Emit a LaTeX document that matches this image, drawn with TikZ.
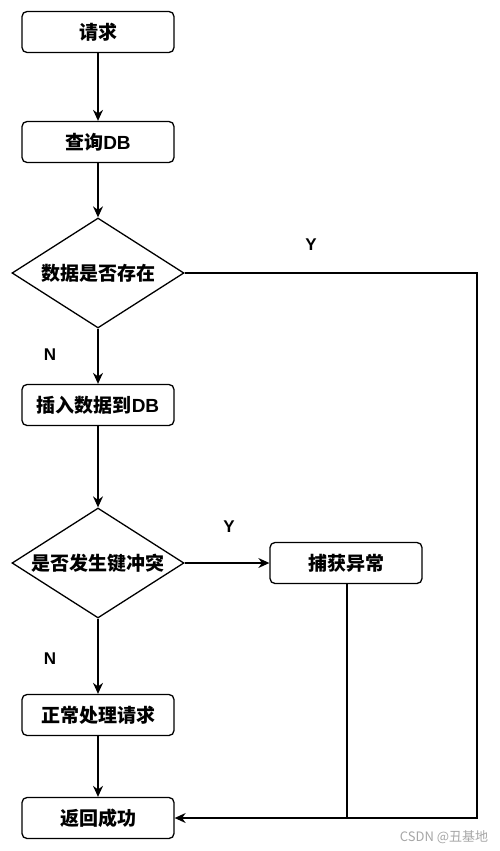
\documentclass[tikz,border=0pt]{standalone}
\usepackage{fontspec}
\setmainfont{Noto Sans CJK SC}
\newfontfamily\latinfont{Liberation Sans}
\usetikzlibrary{shapes.geometric,arrows.meta}
\begin{document}
\begin{tikzpicture}[x=1pt,y=-1pt,
  box/.style={draw,line width=1.3pt,rounded corners=5pt,minimum width=152pt,minimum height=41pt,inner sep=0pt,font=\bfseries\fontsize{19}{21}\selectfont},
  dia/.style={draw,line width=1.3pt,diamond,aspect=1.57,minimum width=172pt,minimum height=110pt,inner sep=0pt,font=\bfseries\fontsize{19}{21}\selectfont},
  lab/.style={font=\latinfont\bfseries\fontsize{17}{19}\selectfont},
  conn/.style={line width=1.3pt,-{Stealth[length=11pt,width=10pt]}},
  plain/.style={line width=1.3pt}]
\useasboundingbox (0,0) rectangle (500,851);
\node[box] (req) at (98,32) {请求};
\node[box] (q) at (98,142) {查询{\latinfont\bfseries DB}};
\node[dia] (d1) at (98,273) {数据是否存在};
\node[box] (ins) at (98,405) {插入数据到{\latinfont\bfseries DB}};
\node[dia] (d2) at (98,563) {是否发生键冲突};
\node[box] (ex) at (346,563) {捕获异常};
\node[box] (norm) at (98,715) {正常处理请求};
\node[box] (ret) at (98,818) {返回成功};
\coordinate (c1) at (477,273);
\coordinate (c2) at (477,818);
\coordinate (c3) at (347,818);
\draw[conn] (req) -- (q);
\draw[conn] (q) -- (d1);
\draw[conn] (d1) -- (ins);
\draw[conn] (ins) -- (d2);
\draw[conn] (d2) -- (ex);
\draw[conn] (d2) -- (norm);
\draw[conn] (norm) -- (ret);
\draw[conn] (d1.east) -- (c1) -- (c2) -- (ret.east);
\draw[plain] (ex.south -| c3) -- (c3);
\node[lab] (y1) at (311,245) {Y};
\node[lab] (n1) at (50,355) {N};
\node[lab] (y2) at (229,527) {Y};
\node[lab] (n2) at (50,659) {N};
\node[text=black!35,font=\fontsize{13}{15}\selectfont] (wm) at (444,837) {CSDN @丑基地};
\end{tikzpicture}
\end{document}
